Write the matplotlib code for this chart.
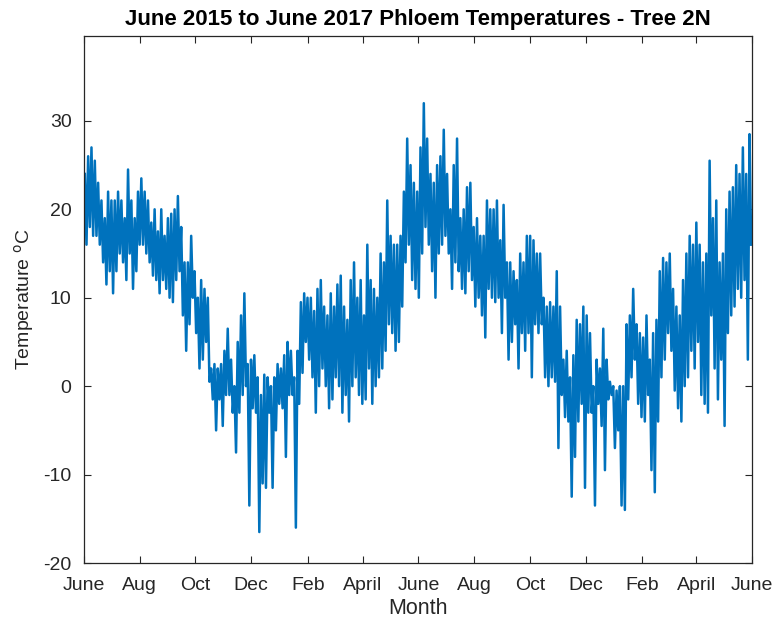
import numpy as np
import pandas as pd
import matplotlib
matplotlib.use("Agg")
import matplotlib.pyplot as plt
import matplotlib.dates as mdates

plt.rcParams['font.family'] = ['Liberation Sans', 'DejaVu Sans']
plt.rcParams['axes.unicode_minus'] = False

# phloem temperature envelope, daily highs / lows per ~3.7 day block (deg C)
temp_hi = [24, 26, 27, 25.5, 23, 21, 19, 22, 21, 21, 22, 21, 19, 24.5, 21, 19, 22, 23.5, 22, 21,
           18.5, 20, 17.5, 20, 17, 19, 19.5, 20, 21.5, 18, 14, 14, 17, 13, 10, 12, 11, 10, 2, 2.5,
           2, 2.5, 4, 6.5, 3, 0, 5, 8, 10.5, 2.5, 3, 3.5, 1, -1, 1.3, 1, 0, 1, 2.5, 2,
           3.5, 5, 4, 1, 4, 9.5, 10.5, 10,
           10, 8.5, 11, 12, 9, 8, 10.5, 9, 11.5, 12.5, 9, 7.5, 12, 14, 10, 12, 8, 16, 12, 11,
           10, 15, 14, 21, 17, 16, 16, 17, 22, 28, 25, 23, 22, 27, 32, 28, 24, 23, 25, 26,
           29, 24, 20, 25, 28, 19, 20, 22.5, 23, 18, 19, 17, 17, 21, 20, 20, 21, 16.5, 20.5, 14,
           14, 13, 12, 15, 14, 17,
           17, 16.5, 15, 15, 10, 9, 9.5, 9, 13, 9, 3, 4, 1, 3.5, 7.5, 7, 9, 8, 6, 0,
           3, 2, 6.5, 3, 0.5, 0, -0.5, 0, 0, 7, 8, 11, 7, 6, 5.5, 8, 3, 6, 7.5, 13,
           14.5, 14, 15, 11, 9, 8, 12, 15, 17, 16, 18.5, 16, 14, 15, 25.5, 19, 21, 14, 15, 20,
           22, 22.5, 25, 24, 27, 24, 28.5]
temp_lo = [16, 18, 17, 17, 16, 14, 11.5, 13, 10.5, 13, 15, 14, 12, 15, 11, 13, 16, 16, 15, 14,
           12.5, 12, 10.5, 12, 11, 10, 9.5, 12, 13, 8, 4, 7, 10, 6, 2, 3, 5, 0.5, -1.5, -5,
           -1.5, -4.5, -1, -1, -3, -7.5, -3, -1, 0, -13.5, -2.5, -3, -16.5, -11, -11.5, -3, -11.5, -5, -2, -2.5,
           -8, -1, -1, -16, -2, 1.5, 5, 3,
           1, -3, 0, 2, 0, -2.5, -1.5, 1, 0, -3, -1, -4, 0, 1, -1, -2, -1.5, 2, -2, 0,
           1, 2, 4, 7, 6, 4, 5, 9, 14, 16, 12, 11, 10, 15, 18, 16, 13, 10, 15, 16,
           17, 15, 11, 14, 13, 11, 10.5, 13, 12, 9, 10, 8, 5.5, 11, 10, 9.5, 10, 6, 10, 3,
           5, 7, 2, 6, 4, 6,
           1, 7, 6, 7, 1, 0, 1, 0.5, -7, -1, -3.5, -4, -12.5, -8, -4, -2, -11.5, -3, -3, -13.5,
           -2, -4.5, -9.5, -1.5, -1, -7, -5, -13.5, -14, -1.5, 1, 3, -2, -3.5, -4, -1, -9.5, -12, -4, 1,
           3, 6, 4, -0.5, -2.5, -4, 0, 1, 4, 2, 5, -1, -2, -3, 8, 2, -1.5, 3, -4.5, 6,
           8, 9, 11, 10, 12, 3, 16]

month_ticks = ['2015-06-01', '2015-08-01', '2015-10-01', '2015-12-01', '2016-02-01', '2016-04-01',
               '2016-06-01', '2016-08-01', '2016-10-01', '2016-12-01', '2017-02-01', '2017-04-01',
               '2017-06-01']
month_labels = ['June', 'Aug', 'Oct', 'Dec', 'Feb', 'April', 'June', 'Aug', 'Oct', 'Dec', 'Feb',
                'April', 'June']

# each block becomes a high point followed by a low point
edges = mdates.date2num(pd.date_range('2015-06-01', '2017-06-01', periods=len(temp_hi) + 1))
step = np.diff(edges)
t = np.column_stack([edges[:-1] + 0.25 * step, edges[:-1] + 0.75 * step]).ravel()
temps = np.column_stack([temp_hi, temp_lo]).ravel()

fig = plt.figure(figsize=(7.75, 6.31), dpi=100)
ax = fig.add_axes([84 / 775, 1 - 563 / 631, 668 / 775, 527 / 631])
ax.plot(t, temps, color='#0072BD', lw=1.8)

dark = '#262626'
ax.set_xlim(mdates.date2num(pd.Timestamp('2015-06-01')), mdates.date2num(pd.Timestamp('2017-06-01')))
ax.set_ylim(-20, 39.6)
ax.set_xticks(mdates.date2num(pd.to_datetime(month_ticks)))
ax.set_xticklabels(month_labels)
ax.set_yticks([-20, -10, 0, 10, 20, 30])
ax.tick_params(direction='in', length=5, width=0.8, top=True, right=True,
               labelsize=14, colors=dark)
ax.tick_params(axis='x', pad=10)
ax.tick_params(axis='y', pad=9)
for s in ax.spines.values():
    s.set_color(dark)
    s.set_linewidth(0.9)

ax.set_title('June 2015 to June 2017 Phloem Temperatures - Tree 2N',
             fontsize=16, fontweight='bold', color='black', pad=8)
ax.set_xlabel('Month', fontsize=15.5, color=dark, labelpad=3)
ax.set_ylabel(r'Temperature $^{\mathrm{o}}$C', fontsize=14, color=dark, labelpad=5)

fig.savefig('out.png', dpi=100)
